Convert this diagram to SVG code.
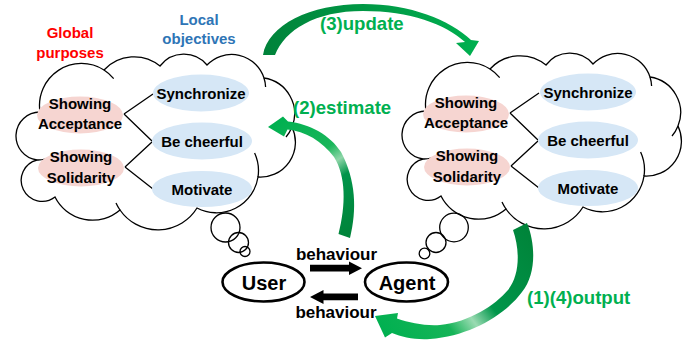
<svg xmlns="http://www.w3.org/2000/svg" width="693" height="341" viewBox="0 0 693 341">
<defs>
<style>
text{font-family:"Liberation Sans",Arial,Helvetica,sans-serif;font-weight:bold;}
.cloud{fill:#ffffff;stroke:#000;stroke-width:1.3;}
.inner{fill:none;stroke:#000;stroke-width:1.3;}
.bub{fill:none;stroke:#000;stroke-width:1.3;}
.gp{fill:#f6d5d1;}
.lo{fill:#d6e7f6;}
.lbl{font-size:15px;fill:#000;text-anchor:middle;}
.link{stroke:#000;stroke-width:1.3;fill:none;}
.actor{fill:#fff;stroke:#000;stroke-width:2.6;}
.actxt{font-size:20px;fill:#000;text-anchor:middle;}
.beh{font-size:17px;fill:#000;text-anchor:middle;}
.green{font-size:18.6px;fill:#00b050;}
</style>
<path id="cloudShape" d="M37,160 A24.1,24.1 0 0 1 40,112 A42,42 0 0 1 104,70 A41,41 0 0 1 160,66 A30,30 0 0 1 207,65 A34,34 0 0 1 264,78 A36,36 0 0 1 292,127 A35,35 0 0 1 258,177 A42,42 0 0 1 197,208 A46,46 0 0 1 120,210 A42,42 0 0 1 55,197 A21,21 0 1 1 37,160 Z"/>
<path id="cloudInner" d="M104,70 A42,42 0 0 1 113.7,78.6 M264,78 A34,34 0 0 1 265.6,87 M292,127 A36,36 0 0 1 286,137 M258,177 A42,42 0 0 0 254.6,153 M120,210 A46,46 0 0 1 116,203 M37,160 A24.1,24.1 0 0 0 45,159"/>
<linearGradient id="gUpd" gradientUnits="userSpaceOnUse" x1="263" y1="40" x2="478" y2="40">
<stop offset="0" stop-color="#00823a"/><stop offset="1" stop-color="#00b050"/>
</linearGradient>
<linearGradient id="gEst" gradientUnits="userSpaceOnUse" x1="343" y1="236" x2="270" y2="125">
<stop offset="0" stop-color="#00843a"/><stop offset="0.38" stop-color="#00944a"/><stop offset="0.5" stop-color="#8fd6a9"/><stop offset="0.62" stop-color="#1ab65a"/><stop offset="1" stop-color="#00b050"/>
</linearGradient>
<linearGradient id="gOut" gradientUnits="userSpaceOnUse" x1="522" y1="223" x2="380" y2="330">
<stop offset="0" stop-color="#00843a"/><stop offset="0.42" stop-color="#00964a"/><stop offset="0.55" stop-color="#9adbb2"/><stop offset="0.68" stop-color="#16b458"/><stop offset="1" stop-color="#00b050"/>
</linearGradient>
</defs>

<!-- User thought cloud -->
<g id="user-cloud">
<use href="#cloudShape" class="cloud"/>
<use href="#cloudInner" class="inner"/>
<circle class="bub" cx="225.5" cy="227.5" r="14.5"/>
<circle class="bub" cx="238.5" cy="242.5" r="10"/>
<circle class="bub" cx="245" cy="251.5" r="5"/>
</g>

<!-- Agent thought cloud -->
<g id="agent-cloud">
<use href="#cloudShape" class="cloud" transform="translate(386,-1)"/>
<use href="#cloudInner" class="inner" transform="translate(386,-1)"/>
<circle class="bub" cx="454" cy="227.5" r="14.3"/>
<circle class="bub" cx="436" cy="242.5" r="10"/>
<circle class="bub" cx="424.5" cy="253.5" r="5.3"/>
</g>

<!-- Headings -->
<g id="heading-global">
<text x="70" y="38" font-size="15" fill="#ff0000" text-anchor="middle">Global</text>
<text x="70" y="58" font-size="15" fill="#ff0000" text-anchor="middle">purposes</text>
</g>
<g id="heading-local">
<text x="199" y="25" font-size="15" fill="#2e75b6" text-anchor="middle">Local</text>
<text x="199" y="44" font-size="15" fill="#2e75b6" text-anchor="middle">objectives</text>
</g>

<!-- connectors -->
<g id="connectors">
<path class="link" d="M124,114 L153,94 M124,114 L152,141 M125,167 L152,142 M125,167 L153,189"/>
<path class="link" d="M510,113 L539,93 M510,113 L538,140 M511,166 L538,141 M511,166 L539,188"/>
<!-- behaviour arrows -->
<polygon fill="#000" points="310,264.8 349,264.8 349,261.5 362,268.2 349,275 349,271.6 310,271.6"/>
<polygon fill="#000" points="358,293.5 323.5,293.5 323.5,290 310,297 323.5,304 323.5,300.2 358,300.2"/>
<!-- (3)update -->
<path fill="url(#gUpd)" d="M263,55 C268,25 310,4 363,4 C410,4 450,20 471,40 L479,41 L470,56 L456,43 L465,42 C445,24 410,11 363,11 C315,11 285,30 275,55 Z"/>
<!-- (2)estimate -->
<path fill="url(#gEst)" d="M350,238 C357,210 356,180 341,152 C330,135 310,124 288,121.5 L283,116.5 L268,127 L284,136.5 L287.5,129.5 C305,131 322,141 334,157 C346,176 346,205 338.5,234 Z"/>
<!-- (1)(4)output -->
<path fill="url(#gOut)" d="M527,223 C536,245 536,275 522,292 C505,315 470,336 430,339 C415,340 402,337 392,333 L385,337.5 L375,316 L398,313 L397,318.5 C410,323 425,326 440,325 C470,322 495,305 508,290 C520,275 520,250 513,230 Z"/>
</g>

<g id="label-update"><text class="green" x="320" y="30">(3)update</text></g>
<g id="label-estimate"><text class="green" x="293" y="114">(2)estimate</text></g>
<g id="label-output"><text class="green" x="527" y="304">(1)(4)output</text></g>

<!-- User cloud nodes -->
<g id="u-acceptance"><ellipse class="gp" cx="80" cy="115" rx="43" ry="18.5"/><text class="lbl" x="80" y="109">Showing</text><text class="lbl" x="80" y="129">Acceptance</text></g>
<g id="u-solidarity"><ellipse class="gp" cx="81" cy="168" rx="43" ry="18.5"/><text class="lbl" x="81" y="162">Showing</text><text class="lbl" x="81" y="183">Solidarity</text></g>
<g id="u-synchronize"><ellipse class="lo" cx="201" cy="93" rx="48" ry="18.5"/><text class="lbl" x="201" y="99">Synchronize</text></g>
<g id="u-cheerful"><ellipse class="lo" cx="202" cy="141" rx="50" ry="18.5"/><text class="lbl" x="202" y="147">Be cheerful</text></g>
<g id="u-motivate"><ellipse class="lo" cx="202" cy="189" rx="50" ry="18"/><text class="lbl" x="202" y="195">Motivate</text></g>

<!-- Agent cloud nodes -->
<g id="a-acceptance"><ellipse class="gp" cx="466" cy="114" rx="43" ry="18.5"/><text class="lbl" x="466" y="108">Showing</text><text class="lbl" x="466" y="128">Acceptance</text></g>
<g id="a-solidarity"><ellipse class="gp" cx="467" cy="167" rx="43" ry="18.5"/><text class="lbl" x="467" y="161">Showing</text><text class="lbl" x="467" y="182">Solidarity</text></g>
<g id="a-synchronize"><ellipse class="lo" cx="588" cy="92" rx="48" ry="18.5"/><text class="lbl" x="588" y="98">Synchronize</text></g>
<g id="a-cheerful"><ellipse class="lo" cx="588" cy="140" rx="50" ry="18.5"/><text class="lbl" x="588" y="146">Be cheerful</text></g>
<g id="a-motivate"><ellipse class="lo" cx="588" cy="188" rx="50" ry="18"/><text class="lbl" x="588" y="194">Motivate</text></g>

<!-- Actors -->
<g id="user"><ellipse class="actor" cx="263.5" cy="282" rx="41" ry="19.5"/><text class="actxt" x="264" y="290">User</text></g>
<g id="agent"><ellipse class="actor" cx="406.5" cy="282" rx="41.5" ry="19.5"/><text class="actxt" x="407" y="290">Agent</text></g>

<g id="label-beh-top"><text class="beh" x="336.5" y="259.5">behaviour</text></g>
<g id="label-beh-bottom"><text class="beh" x="336" y="318">behaviour</text></g>
</svg>
